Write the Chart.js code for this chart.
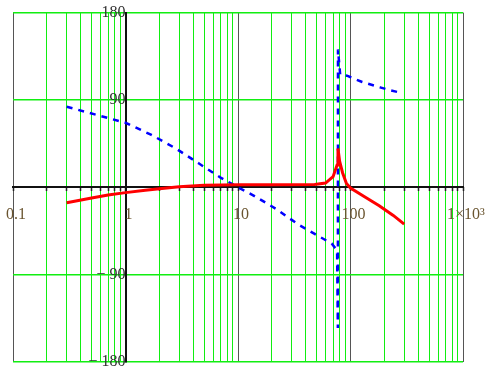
<!DOCTYPE html>
<html>
<head>
<meta charset="utf-8">
<script src="https://cdn.jsdelivr.net/npm/chart.js@4"></script>
<style>
  html, body { margin: 0; padding: 0; background: #fff; }
  canvas { display: block; }
</style>
</head>
<body>
<canvas id="bodeChart" width="495" height="386"></canvas>
<script>
// ===== data =====
// red solid curve
const magFreq = [0.3, 0.5, 0.7, 1, 1.5, 2, 3, 5, 10, 20, 48, 60, 70, 76, 77.4, 80, 85, 92, 100, 130, 180, 240, 300];
const magValues = [-16, -11, -8, -5.5, -3, -1.5, 0.5, 2, 2.6, 2.7, 2.8, 4.4, 11, 23, 40, 27, 15, 4, -0.7, -9, -19, -29, -38];

// blue dashed curve
const phaseFreq = [0.3, 1, 1.7, 2.8, 4.5, 7, 10, 14, 22, 34, 48, 68, 76, 77.2, 77.4, 81, 93, 127, 183, 224, 290];
const phaseValues = [83, 66.5, 54, 40, 24.5, 10, 0, -9, -22.5, -38, -48, -58, -65, -145, 142, 116, 115, 108.5, 103, 100, 97];

// axis ticks
const decades = [0.1, 1, 10, 100, 1000];
const decadeLabels = ["0.1", "1", "10", "100", "1\u00d710\u00b3"];
const minorSteps = [2, 3, 4, 5, 6, 7, 8, 9];
const yTicks = [-180, -90, 0, 90, 180];
const yTickLabels = ["\u2212 180", "\u2212 90", "", "90", "180"];

const toPoints = (xs, ys) => xs.map((x, i) => ({ x, y: ys[i] }));

const xTickValues = [];
decades.forEach(d => {
  xTickValues.push(d);
  if (d < 1000) minorSteps.forEach(m => xTickValues.push(d * m));
});

const GREEN = "#11ee11";
const labelFont = { family: "'Liberation Serif', 'DejaVu Serif', serif", size: 16 };
const setXTicks = scale => {
  scale.ticks = xTickValues.map(v => ({ value: v, major: decades.includes(v) }));
};

const ctx = document.getElementById("bodeChart").getContext("2d");

new Chart(ctx, {
  type: "scatter",
  data: {
    datasets: [
      {
        data: toPoints(magFreq, magValues),
        showLine: true,
        borderColor: "#ff0000",
        borderWidth: 3,
        pointRadius: 0,
        tension: 0
      },
      {
        data: toPoints(phaseFreq, phaseValues),
        showLine: true,
        borderColor: "#0000ff",
        borderWidth: 2.5,
        borderDash: [6, 6],
        pointRadius: 0,
        tension: 0
      }
    ]
  },
  options: {
    responsive: false,
    animation: false,
    layout: { padding: { left: 13, right: 32, top: 11, bottom: 24 } },
    plugins: { legend: { display: false }, tooltip: { enabled: false } },
    scales: {
      x: {
        type: "logarithmic",
        min: 0.1,
        max: 1000,
        position: { y: 0 },
        afterBuildTicks: setXTicks,
        grid: {
          color: c => {
            const v = c.tick && c.tick.value;
            if (v === 1) return "#111";
            return decades.includes(v) ? "#555" : GREEN;
          },
          lineWidth: 1,
          drawTicks: true,
          tickLength: 18,
          tickColor: "rgba(0,0,0,0)"
        },
        border: { display: true, color: "#111", width: 2 },
        ticks: {
          autoSkip: false,
          maxRotation: 0,
          padding: 0,
          labelOffset: 3,
          z: 1,
          color: "#6a5530",
          font: labelFont,
          callback: v => {
            const i = decades.indexOf(v);
            return i >= 0 ? decadeLabels[i] : "";
          }
        }
      },
      // second copy of the x axis, only for the short black tick marks
      xMarks: {
        type: "logarithmic",
        axis: "x",
        min: 0.1,
        max: 1000,
        position: { y: 0 },
        afterBuildTicks: setXTicks,
        grid: {
          drawOnChartArea: false,
          drawTicks: true,
          tickLength: 4,
          tickColor: "#222",
          tickWidth: 1.5
        },
        border: { display: false },
        ticks: { autoSkip: false, padding: 0, callback: () => "", font: { size: 1 } }
      },
      y: {
        type: "linear",
        min: -180,
        max: 180,
        position: { x: 1 },
        afterBuildTicks: scale => {
          scale.ticks = yTicks.map(v => ({ value: v }));
        },
        grid: {
          color: c => (c.tick && c.tick.value === 0 ? "rgba(0,0,0,0)" : GREEN),
          lineWidth: 1.5,
          drawTicks: false
        },
        border: { display: true, color: "#111", width: 2 },
        ticks: {
          padding: 3,
          z: 1,
          color: "#333",
          font: labelFont,
          callback: v => {
            const i = yTicks.indexOf(v);
            return i >= 0 ? yTickLabels[i] : "";
          }
        }
      }
    }
  }
});
</script>
</body>
</html>
